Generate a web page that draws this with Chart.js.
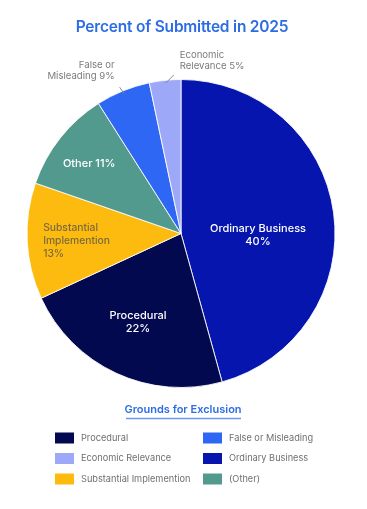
<!DOCTYPE html>
<html>
<head>
<meta charset="utf-8">
<script src="https://cdn.jsdelivr.net/npm/chart.js@4.4.1/dist/chart.umd.min.js"></script>
<style>
  html, body { margin: 0; padding: 0; background: #fff; }
  canvas { display: block; }
</style>
</head>
<body>
<canvas id="chart" width="367" height="509"></canvas>
<script>
// slices, clockwise from 12 o'clock
const categories = ['Ordinary Business', 'Procedural', 'Substantial Implemention', 'Other', 'False or Misleading', 'Economic Relevance'];
// share of the circle each slice takes in the picture (%)
const sliceShares = [45.7, 22.4, 12.2, 10.7, 5.7, 3.3];
// percentages printed on the chart
const printedPercents = [40, 22, 13, 11, 9, 5];
// label lines written on / next to each slice
const sliceLabelLines = [['Ordinary Business'], ['Procedural'], ['Substantial', 'Implemention'], ['Other'], ['False or', 'Misleading'], ['Economic', 'Relevance']];
// names used in the legend
const legendNames = ['Ordinary Business', 'Procedural', 'Substantial Implemention', '(Other)', 'False or Misleading', 'Economic Relevance'];
// legend order, column by column (3 rows)
const legendOrder = [1, 5, 2, 4, 0, 3];
const sliceColors = ['#0615ae', '#03094f', '#fdbb10', '#539a8e', '#2f67f5', '#9da8f8'];

const titleText = 'Percent of Submitted in 2025';
const legendTitle = 'Grounds for Exclusion';
const FONT = 'Inter, "Noto Sans", sans-serif';
const BLUE = '#2d6de4';

// how each slice label is placed: radius fraction, angle shift (deg), colour, size, percent on own line, outside
const labelStyle = [
  { r: 0.5, shift: 9, color: '#fff', size: 11, newLine: true },
  { r: 0.64, shift: 1, color: '#fff', size: 11, newLine: true },
  { r: 0.68, shift: -1.4, color: '#7a6a3e', size: 10.3, newLine: true, align: 'left' },
  { r: 0.75, shift: -1, color: '#fff', size: 11, newLine: false },
  { r: 0.98, shift: 0, color: '#7b7b7b', size: 9.6, newLine: false, outside: 'left' },
  { r: 0.98, shift: 0, color: '#7b7b7b', size: 9.6, newLine: false, outside: 'right' }
];

const textPlugin = {
  id: 'textPlugin',
  afterDraw(chart) {
    const ctx = chart.ctx;
    ctx.save();

    // title
    ctx.fillStyle = BLUE;
    ctx.font = '600 15.5px ' + FONT;
    ctx.letterSpacing = '-0.2px';
    ctx.textAlign = 'center';
    ctx.textBaseline = 'middle';
    ctx.fillText(titleText, 182, 27);
    ctx.letterSpacing = '0px';

    // slice labels
    const arcs = chart.getDatasetMeta(0).data;
    arcs.forEach((arc, i) => {
      const st = labelStyle[i];
      const lines = sliceLabelLines[i].slice();
      const pct = printedPercents[i] + '%';
      if (st.newLine) lines.push(pct);
      else lines[lines.length - 1] += ' ' + pct;

      const mid = (arc.startAngle + arc.endAngle) / 2 + st.shift * Math.PI / 180;
      const R = arc.outerRadius;
      ctx.fillStyle = st.color;
      ctx.font = '500 ' + st.size + 'px ' + FONT;
      ctx.textBaseline = 'middle';
      const lh = 13;

      if (st.outside) {
        const a0 = mid;
        const a1 = mid + (st.outside === 'right' ? 3.3 : -0.6) * Math.PI / 180;
        const x0 = arc.x + Math.cos(a0) * R * st.r, y0 = arc.y + Math.sin(a0) * R * st.r;
        const x1 = arc.x + Math.cos(a1) * R * 1.03, y1 = arc.y + Math.sin(a1) * R * 1.03;
        ctx.strokeStyle = '#8a8a8a';
        ctx.lineWidth = 1;
        ctx.beginPath();
        ctx.moveTo(x0, y0);
        ctx.lineTo(x1, y1);
        ctx.stroke();
        ctx.font = '400 ' + st.size + 'px ' + FONT;
        const lh2 = 11;
        if (st.outside === 'left') {
          ctx.textAlign = 'right';
          lines.forEach((t, k) => ctx.fillText(t, x1 - 5, y1 - 11 - (lines.length - 1 - k) * lh2));
        } else {
          ctx.textAlign = 'left';
          lines.forEach((t, k) => ctx.fillText(t, x1 + 6, y1 - 9 - (lines.length - 1 - k) * lh2));
        }
        return;
      }

      const cx = arc.x + Math.cos(mid) * R * st.r;
      const cy = arc.y + Math.sin(mid) * R * st.r;
      const y0 = cy - (lines.length - 1) * lh / 2;
      if (st.align === 'left') {
        ctx.textAlign = 'left';
        const w = Math.max(...lines.map(t => ctx.measureText(t).width));
        lines.forEach((t, k) => ctx.fillText(t, cx - w / 2, y0 + k * lh));
      } else {
        ctx.textAlign = 'center';
        lines.forEach((t, k) => ctx.fillText(t, cx, y0 + k * lh));
      }
    });

    // legend title
    ctx.fillStyle = BLUE;
    ctx.font = '600 11px ' + FONT;
    ctx.textAlign = 'center';
    ctx.fillText(legendTitle, 183, 410);
    ctx.strokeStyle = '#6f97e8';
    ctx.lineWidth = 1.5;
    ctx.beginPath();
    ctx.moveTo(126, 418.5);
    ctx.lineTo(241, 418.5);
    ctx.stroke();

    // legend items
    ctx.font = '400 9.2px ' + FONT;
    ctx.textAlign = 'left';
    legendOrder.forEach((idx, k) => {
      const col = Math.floor(k / 3), row = k % 3;
      const sx = col === 0 ? 55 : 203;
      const sy = 438 + row * 20.5;
      ctx.fillStyle = sliceColors[idx];
      ctx.fillRect(sx, sy - 5.5, 19, 11);
      ctx.fillStyle = '#6f6f6f';
      ctx.fillText(legendNames[idx], sx + 26, sy);
    });

    ctx.restore();
  }
};

new Chart(document.getElementById('chart'), {
  type: 'pie',
  data: {
    labels: categories,
    datasets: [{
      data: sliceShares,
      backgroundColor: sliceColors,
      borderColor: 'rgba(255,255,255,0.85)',
      borderWidth: 1
    }]
  },
  options: {
    responsive: false,
    animation: false,
    layout: { padding: { left: 26.5, right: 31.5, top: 79, bottom: 121 } },
    plugins: {
      legend: { display: false },
      title: { display: false },
      tooltip: { enabled: false }
    }
  },
  plugins: [textPlugin]
});
</script>
</body>
</html>
